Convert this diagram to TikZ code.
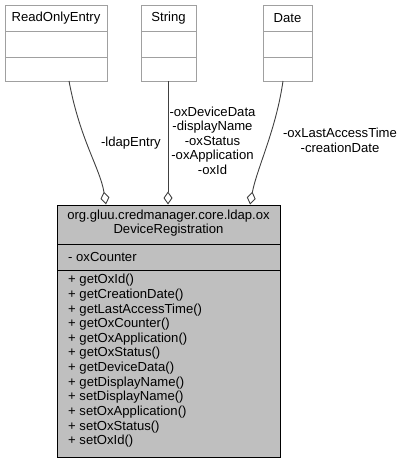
\documentclass[tikz,border=0pt]{standalone}
\usepackage{fontspec}
\setmainfont{Liberation Sans}
\usetikzlibrary{arrows.meta}
\definecolor{edgegray}{HTML}{404040}
\definecolor{boxgray}{HTML}{A0A0A0}
\definecolor{mainfill}{HTML}{BFBFBF}
\tikzset{
  txt/.style={font=\fontsize{13.1}{14.5}\selectfont, inner sep=0pt, text=black},
  topbox/.style={draw=boxgray, fill=white, line width=1pt, inner sep=0pt},
  conn/.style={draw=edgegray, line width=0.9pt, -{Diamond[open, fill=white, length=13pt, width=9pt, line width=0.9pt]}},
}
\begin{document}
\begin{tikzpicture}[x=1pt, y=-1pt]
\useasboundingbox (0,0) rectangle (405,463);
% top classes
\node[topbox, minimum width=102pt, minimum height=76pt, anchor=north west] (ro) at (5,5) {};
\draw[boxgray, line width=1pt] (5,31) -- (107,31) (5,57) -- (107,57);
\node[txt] (rot) at (56,18.5) {ReadOnlyEntry};
\node[topbox, minimum width=55pt, minimum height=76pt, anchor=north west] (st) at (141,5) {};
\draw[boxgray, line width=1pt] (141,31) -- (196,31) (141,57) -- (196,57);
\node[txt] (stt) at (168.5,18.5) {String};
\node[topbox, minimum width=49pt, minimum height=76pt, anchor=north west] (dt) at (263,5) {};
\draw[boxgray, line width=1pt] (263,31) -- (312,31) (263,57) -- (312,57);
\node[txt] (dtt) at (287.5,18.5) {Date};
% endpoints
\coordinate (roS) at (69,81);
\coordinate (stS) at (168,81);
\coordinate (dtS) at (283,81);
\coordinate (mA) at (106,204.5);
\coordinate (mB) at (168,204.5);
\coordinate (mC) at (250,204.5);
% connectors
\draw[conn] (roS) .. controls (80,140) and (100,168) .. (mA);
\draw[conn] (stS) -- (mB);
\draw[conn] (dtS) .. controls (276,130) and (257,168) .. (mC);
% labels
\node[txt, anchor=east] (l1) at (161,143) {-ldapEntry};
\node[txt, align=center, anchor=north, font=\fontsize{13.1}{14.6}\selectfont] (l2) at (212.5,106.5) {-oxDeviceData\\-displayName\\-oxStatus\\-oxApplication\\-oxId};
\node[txt, align=center, anchor=north, font=\fontsize{13.1}{14.6}\selectfont] (l3) at (340,128) {-oxLastAccessTime\\-creationDate};
% main class
\node[draw=black, fill=mainfill, line width=1pt, minimum width=223pt, minimum height=252pt, anchor=north west, inner sep=0pt] (main) at (57,204.5) {};
\draw[black, line width=1pt] (57,244.5) -- (280,244.5) (57,270) -- (280,270);
\node[txt, align=center, anchor=north, font=\fontsize{13.1}{14}\selectfont] (mt) at (168.5,209.5) {org.gluu.credmanager.core.ldap.ox\\DeviceRegistration};
\node[txt, anchor=west] (attr) at (68,256.7) {- oxCounter};
\node[txt, anchor=north west, align=left, font=\fontsize{13.1}{14.66}\selectfont] (meth) at (68,274) {+ getOxId()\\+ getCreationDate()\\+ getLastAccessTime()\\+ getOxCounter()\\+ getOxApplication()\\+ getOxStatus()\\+ getDeviceData()\\+ getDisplayName()\\+ setDisplayName()\\+ setOxApplication()\\+ setOxStatus()\\+ setOxId()};
\end{tikzpicture}
\end{document}
